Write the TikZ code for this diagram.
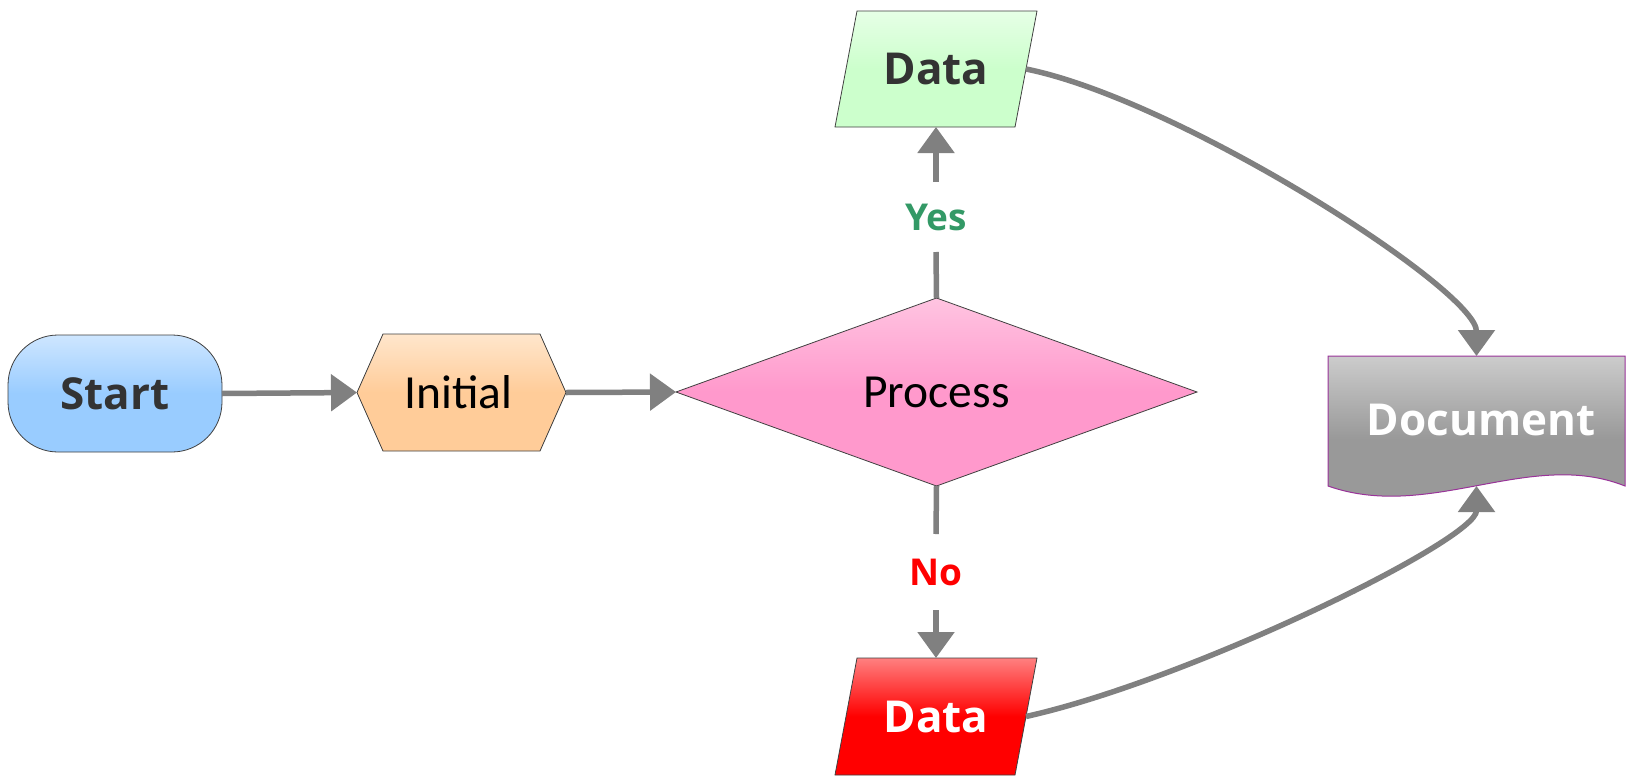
\documentclass[tikz,border=0pt]{standalone}
\usepackage{fontspec}
\setmainfont{Open Sans}
\newfontfamily\calib{Carlito}
\usetikzlibrary{arrows.meta,shadings}
\definecolor{arrowgray}{RGB}{128,128,128}
\definecolor{bordergray}{RGB}{64,64,64}
\definecolor{textdark}{RGB}{51,51,51}
\definecolor{startTop}{RGB}{206,230,255}
\definecolor{startBot}{RGB}{153,204,255}
\definecolor{initTop}{RGB}{255,230,204}
\definecolor{initBot}{RGB}{255,204,153}
\definecolor{procTop}{RGB}{255,196,225}
\definecolor{procBot}{RGB}{255,153,204}
\definecolor{dataTop}{RGB}{230,255,230}
\definecolor{dataBot}{RGB}{204,255,204}
\definecolor{redTop}{RGB}{255,128,128}
\definecolor{redBot}{RGB}{255,0,0}
\definecolor{docTop}{RGB}{204,204,204}
\definecolor{docBot}{RGB}{153,153,153}
\definecolor{docBorder}{RGB}{153,51,153}
\definecolor{yesGreen}{RGB}{51,153,102}
\begin{document}
\begin{tikzpicture}[x=1pt,y=-1pt,
  conn/.style={draw=arrowgray, line width=5.5pt},
  tip/.style={-{Triangle[length=26pt,width=36pt]}},
  boldtxt/.style={font=\fontsize{44}{52}\selectfont\bfseries},
  lbltxt/.style={font=\fontsize{37}{44}\selectfont\bfseries},
  regtxt/.style={font=\calib\fontsize{47.5}{56}\selectfont, text=black},
  holder/.style={inner sep=0pt, outer sep=0pt},
  shapeline/.style={draw=bordergray, line width=0.8pt}]
\useasboundingbox[fill=white] (0,0) rectangle (1636,782);

% shapes
\path[shapeline, top color=initTop, bottom color=initBot, middle color=initBot]
  (357,392.5) -- (383,334) -- (540,334) -- (566,392.5) -- (540,451) -- (383,451) -- cycle;
\path[shapeline, top color=procTop, bottom color=procBot, middle color=procBot]
  (676,392) -- (936.5,298) -- (1197,392) -- (936.5,486) -- cycle;
\path[shapeline, top color=dataTop, bottom color=dataBot, middle color=dataBot]
  (857,11) -- (1037,11) -- (1015,127) -- (835,127) -- cycle;
\path[shapeline, top color=redTop, bottom color=redBot, middle color=redBot]
  (857,658) -- (1037,658) -- (1015,775) -- (835,775) -- cycle;
\path[draw=docBorder, line width=1pt, top color=docTop, bottom color=docBot, middle color=docBot]
  (1328,356) -- (1625,356) -- (1625,486)
  .. controls (1530,448) and (1430,522) .. (1328,486) -- cycle;

% nodes
\node[shapeline, rounded corners=50pt, minimum width=214pt, minimum height=117pt,
      top color=startTop, bottom color=startBot, middle color=startBot,
      boldtxt, text=textdark, outer sep=0pt] (start) at (115,393.5) {Start};
\node[holder, minimum width=209pt, minimum height=117pt, regtxt] (init) at (461.5,392.5) {\hspace*{-6pt}Initial};
\node[holder, minimum width=521pt, minimum height=188pt, regtxt] (proc) at (936.5,392) {Process};
\node[holder, minimum width=180pt, minimum height=116pt, boldtxt, text=textdark] (dtop) at (936,69) {Data};
\node[holder, minimum width=180pt, minimum height=117pt, boldtxt, text=white] (dbot) at (936,716.5) {Data};
\node[holder, minimum width=297pt, minimum height=130pt, boldtxt, text=white] (doc) at (1476.5,421) {\hspace*{9pt}\raisebox{3pt}{Document}};
\node[holder, minimum height=70pt, lbltxt, text=yesGreen] (yes) at (936,217) {Yes};
\node[holder, minimum height=76pt, lbltxt, text=red] (no) at (936,572) {No};

% connectors
\draw[conn, tip] (start.east) -- (init.west);
\draw[conn, tip] (init.east) -- (proc.west);
\draw[conn] (proc.north) -- (yes.south);
\draw[conn, tip] (yes.north) -- (dtop.south);
\draw[conn] (proc.south) -- (no.north);
\draw[conn, tip] (no.south) -- (dbot.north);
\draw[conn, tip] (dtop.east) .. controls (1180,100) and (1476.5,290) .. (doc.north);
\draw[conn, tip] (dbot.east) .. controls (1190,680) and (1476.5,540) .. (doc.south);
\end{tikzpicture}
\end{document}
